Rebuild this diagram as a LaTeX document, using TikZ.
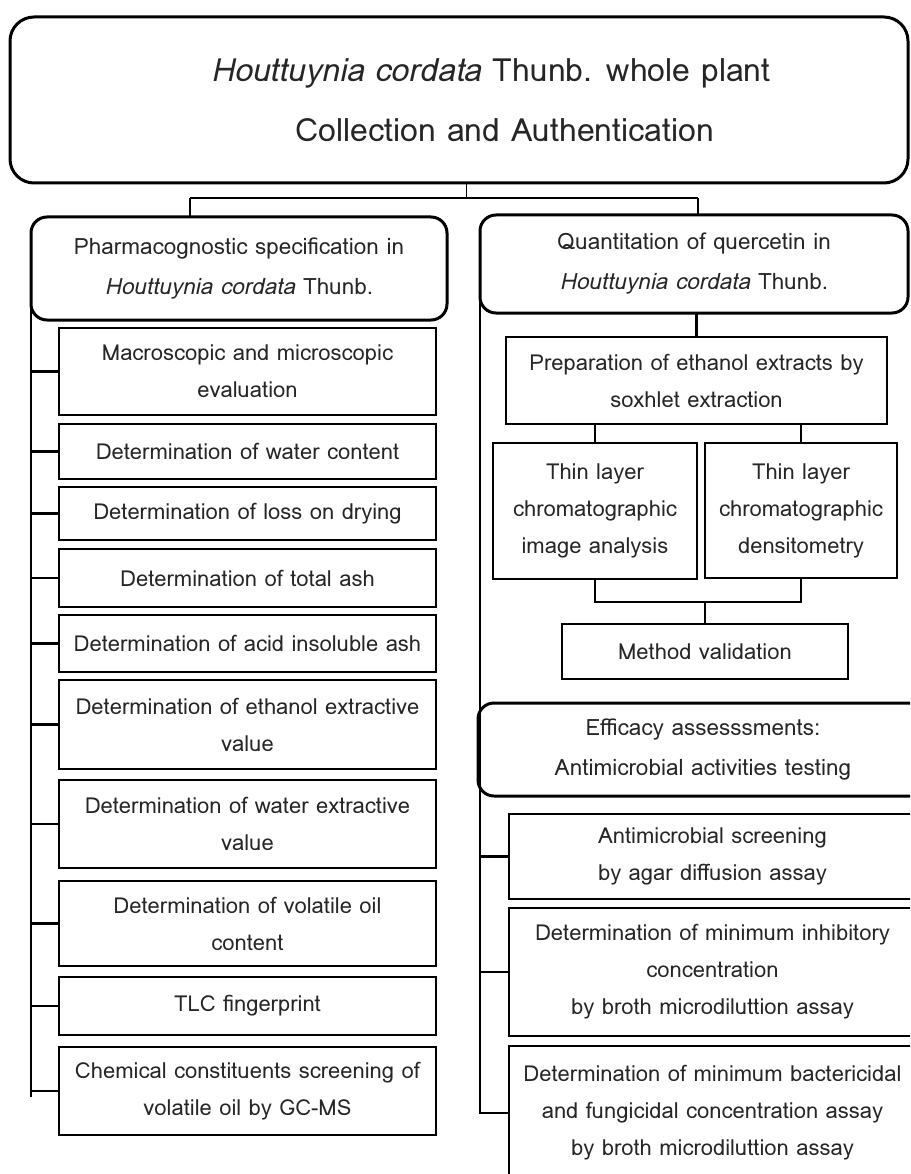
\documentclass[tikz,border=0pt]{standalone}
\usepackage{fontspec}
\setmainfont{Loma}
\usetikzlibrary{positioning}

\begin{document}
\begin{tikzpicture}[x=1pt,y=-1pt,
every node/.style={outer sep=0pt,inner sep=0pt,align=center,text=black!85},
rootbox/.style={draw,line width=3pt,rounded corners=24pt,
    font=\fontsize{32}{60}\selectfont},
headbox/.style={draw,line width=3pt,rounded corners=16pt,
    font=\fontsize{22.5}{40}\selectfont},
itembox/.style={draw,line width=1.3pt,font=\fontsize{22}{37}\selectfont},
link/.style={line width=2.5pt}]
\useasboundingbox (0,0) rectangle (910,1174);
\clip (0,0) rectangle (910,1174);

% top of the tree
\node[rootbox,minimum width=898pt,minimum height=166pt] (root) at (459,100)
  {\hspace*{64pt}\textit{Houttuynia cordata} Thunb. whole plant\\
   \hspace*{92pt}Collection and Authentication};
\node[headbox,minimum width=416pt,minimum height=103pt] (pharm) at (239,268.5)
  {Pharmacognostic specification in\\ \textit{Houttuynia cordata} Thunb.};
\node[headbox,minimum width=428pt,minimum height=98pt] (quant) at (694,264)
  {Quantitation of quercetin in\\ \textit{Houttuynia cordata} Thunb.};

% left column
\node[itembox,minimum width=377pt,minimum height=87pt] (macro) at (247.5,371.5)
  {Macroscopic and microscopic\\ evaluation};
\node[itembox,minimum width=377pt,minimum height=55pt] (water) at (247.5,451.5)
  {Determination of water content};
\node[itembox,minimum width=377pt,minimum height=53pt] (loss) at (247.5,513.5)
  {Determination of loss on drying};
\node[itembox,minimum width=377pt,minimum height=58pt] (ash) at (247.5,578)
  {Determination of total ash};
\node[itembox,minimum width=377pt,minimum height=57pt] (acid) at (247.5,643.5)
  {Determination of acid insoluble ash};
\node[itembox,minimum width=377pt,minimum height=89pt] (ethext) at (247.5,724.5)
  {Determination of ethanol extractive\\ value};
\node[itembox,minimum width=377pt,minimum height=88pt] (watext) at (247.5,824)
  {Determination of water extractive\\ value};
\node[itembox,minimum width=377pt,minimum height=85pt] (oil) at (247.5,923.5)
  {Determination of volatile oil\\ content};
\node[itembox,minimum width=377pt,minimum height=58pt] (tlc) at (247.5,1006)
  {TLC fingerprint};
\node[itembox,minimum width=377pt,minimum height=88pt] (gcms) at (247.5,1091)
  {Chemical constituents screening of\\ volatile oil by GC-MS};

% right column
\node[itembox,minimum width=381pt,minimum height=87pt] (prep) at (696.5,380.5)
  {Preparation of ethanol extracts by\\ soxhlet extraction};
\node[itembox,minimum width=204pt,minimum height=136pt] (tlcimg) at (595,511)
  {Thin layer\\ chromatographic\\ image analysis};
\node[itembox,minimum width=192pt,minimum height=135pt] (tlcdens) at (801,510.5)
  {Thin layer\\ chromatographic\\ densitometry};
\node[itembox,minimum width=286pt,minimum height=55pt] (valid) at (705,651.5)
  {Method validation};
\node[headbox,minimum width=450pt,minimum height=93pt] (effic) at (703,749.5)
  {Efficacy assesssments:\\ Antimicrobial activities testing};
\node[itembox,minimum width=407pt,minimum height=85pt] (agar) at (712.5,856.5)
  {Antimicrobial screening\\ by agar diffusion assay};
\node[itembox,minimum width=407pt,minimum height=128pt] (mic) at (712.5,972)
  {Determination of minimum inhibitory\\ concentration\\ by broth microdiluttion assay};
\node[itembox,minimum width=407pt,minimum height=134pt] (mbc) at (712.5,1113)
  {Determination of minimum bactericidal\\ and fungicidal concentration assay\\ by broth microdiluttion assay};

% connectors
\coordinate (split) at (466,198);
\coordinate (jl) at (190,198);
\coordinate (jr) at (698,198);
\coordinate (endL) at (32,1097);
\coordinate (merge) at (705,602);
\draw[line width=1pt] (root.south -| split) -- (split);
\draw[line width=2pt] (jl) -- (jr);
\draw[line width=2pt] (jl) -- (jl |- pharm.north);
\draw[line width=2pt] (jr) -- (jr |- quant.north);

\draw[link] (pharm.west) -- (pharm.west |- endL);
\foreach \n in {macro,water,loss,ash,acid,ethext,watext,oil,tlc,gcms}
  \draw[link] (pharm.west |- \n.west) -- (\n.west);

\draw[link] (prep.north) -- (prep.north |- quant.south);
\draw[link] (tlcimg.north) -- (tlcimg.north |- prep.south);
\draw[link] (tlcdens.north) -- (tlcdens.north |- prep.south);
\draw[link] (tlcimg.south) |- (merge) -| (tlcdens.south);
\draw[link] (merge) -- (valid.north);

\draw[link] (quant.west) |- (mbc.west);
\draw[link] (quant.west |- agar.west) -- (agar.west);
\draw[link] (quant.west |- mic.west) -- (mic.west);
\end{tikzpicture}
\end{document}
